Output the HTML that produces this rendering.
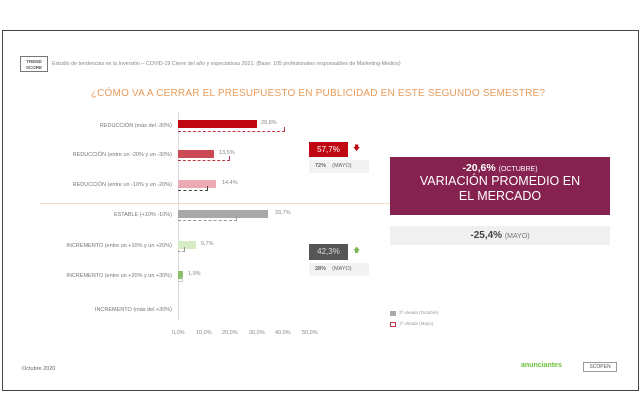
<!DOCTYPE html>
<html><head><meta charset="utf-8"><style>
*{margin:0;padding:0;box-sizing:border-box}
body{width:640px;height:420px;background:#fff;position:relative;overflow:hidden;font-family:"Liberation Sans",sans-serif;color:#666}
.a{position:absolute;white-space:nowrap}
.lbl{position:absolute;right:468px;font-size:5.5px;color:#777}
.bar{position:absolute;left:178px;height:8px}
.dash{position:absolute;left:178px;height:5px;border:1px dashed #c0394b;border-left:none;border-top:none}
.val{position:absolute;font-size:5.5px;color:#888}
.tick{position:absolute;top:330px;font-size:5.5px;color:#888}
</style></head><body>
<div class="a" style="left:2px;top:30px;width:637px;height:361px;border:1px solid #444;"></div>
<div class="a" style="left:20px;top:56px;width:28px;height:16px;border:1px solid #777;font-size:4.5px;text-align:center;line-height:6px;font-weight:bold;color:#555;padding-top:2px">TREND<br>SCORE</div>
<div class="a" style="left:52px;top:61px;font-size:5.3px;color:#888">Estudio de tendencias en la Inversión – COVID-19 Cierre del año y expectativas 2021. (Base: 105 profesionales responsables de Marketing-Medios)</div>
<div class="a" style="left:0;width:636px;text-align:center;top:88px;font-size:10px;color:#e89c5a;letter-spacing:0.2px">¿CÓMO VA A CERRAR EL PRESUPUESTO EN PUBLICIDAD EN ESTE SEGUNDO SEMESTRE?</div>

<div class="a" style="left:178px;top:112px;width:1px;height:208px;background:#ddd"></div>
<div class="a" style="left:40px;top:203px;width:370px;height:1px;background:#f3dcc0"></div>

<div class="lbl" style="top:123px">REDUCCIÓN (más del -30%)</div>
<div class="bar" style="top:120px;width:79px;background:#c00812"></div>
<div class="dash" style="top:127px;width:107px"></div>
<div class="val" style="left:261px;top:120px">29,8%</div>

<div class="lbl" style="top:152px">REDUCCIÓN (entre un -20% y un -30%)</div>
<div class="bar" style="top:150px;width:36px;background:#cc4a55"></div>
<div class="dash" style="top:156px;width:52px"></div>
<div class="val" style="left:219px;top:150px">13,5%</div>

<div class="lbl" style="top:182px">REDUCCIÓN (entre un -10% y un -20%)</div>
<div class="bar" style="top:180px;width:38px;background:#eeaab3"></div>
<div class="dash" style="top:186px;width:30px;border-color:#444"></div>
<div class="val" style="left:222px;top:180px">14,4%</div>

<div class="lbl" style="top:212px">ESTABLE (+10% -10%)</div>
<div class="bar" style="top:210px;width:90px;background:#a8a8a8"></div>
<div class="dash" style="top:216px;width:59px;border-color:#999"></div>
<div class="val" style="left:275px;top:210px">33,7%</div>

<div class="lbl" style="top:243px">INCREMENTO (entre un +10% y un +20%)</div>
<div class="bar" style="top:241px;width:18px;background:#d6ecc4"></div>
<div class="dash" style="top:247px;width:7px;border-color:#999"></div>
<div class="val" style="left:201px;top:241px">6,7%</div>

<div class="lbl" style="top:273px">INCREMENTO (entre un +20% y un +30%)</div>
<div class="bar" style="top:271px;width:5px;background:#8cbf6c"></div>
<div class="dash" style="top:277px;width:5px;border-color:#ccc"></div>
<div class="val" style="left:188px;top:271px">1,9%</div>

<div class="lbl" style="top:307px">INCREMENTO (más del +30%)</div>

<div class="tick" style="left:172px">0,0%</div>
<div class="tick" style="left:196px">10,0%</div>
<div class="tick" style="left:222px">20,0%</div>
<div class="tick" style="left:249px">30,0%</div>
<div class="tick" style="left:275px">40,0%</div>
<div class="tick" style="left:302px">50,0%</div>

<div class="a" style="left:309px;top:142px;width:39px;height:15px;background:#c00812;color:#fff;font-size:8px;line-height:15px;text-align:center">57,7%</div>
<div class="a" style="left:353px;top:144px;font-size:7px;color:#c00812">🡇</div>
<div class="a" style="left:309px;top:160px;width:60px;height:13px;background:#f3f3f3;font-size:5.5px;line-height:13px;padding-left:6px;color:#666"><b>72%</b>&nbsp;&nbsp;&nbsp;&nbsp;(MAYO)</div>

<div class="a" style="left:309px;top:244px;width:39px;height:16px;background:#555;color:#ddd;font-size:8px;line-height:16px;text-align:center">42,3%</div>
<div class="a" style="left:353px;top:246px;font-size:7px;color:#7cb85a">🡅</div>
<div class="a" style="left:309px;top:263px;width:60px;height:13px;background:#f3f3f3;font-size:5.5px;line-height:13px;padding-left:6px;color:#666"><b>28%</b>&nbsp;&nbsp;&nbsp;&nbsp;(MAYO)</div>

<div class="a" style="left:390px;top:157px;width:220px;height:58px;background:#86224f;color:#fff;text-align:center;padding-top:5px">
<div style="font-size:10.5px;font-weight:bold">-20,6% <span style="font-size:7px;font-weight:normal">(OCTUBRE)</span></div>
<div style="font-size:12.5px;line-height:15px">VARIACIÓN PROMEDIO EN<br>EL MERCADO</div></div>
<div class="a" style="left:390px;top:226px;width:220px;height:19px;background:#f0f0f0;text-align:center;line-height:19px;font-size:10px;color:#444"><b>-25,4%</b> <span style="font-size:7px;color:#777">(MAYO)</span></div>

<div class="a" style="left:390px;top:311px;width:6px;height:5px;background:#aaa"></div>
<div class="a" style="left:399px;top:310px;font-size:4.5px;color:#999">2ª oleada (Octubre)</div>
<div class="a" style="left:390px;top:322px;width:6px;height:5px;border:1px dashed #c0394b"></div>
<div class="a" style="left:399px;top:321px;font-size:4.5px;color:#999">1ª oleada (Mayo)</div>

<div class="a" style="left:22px;top:366px;font-size:5.5px;color:#666">Octubre 2020</div>
<div class="a" style="left:521px;top:362px;font-size:7px;color:#6cbf3c;font-weight:bold">anunciantes</div>
<div class="a" style="left:583px;top:362px;width:34px;height:10px;border:1px solid #999;font-size:5px;text-align:center;line-height:9px;color:#555">SCOPEN</div>
</body></html>
